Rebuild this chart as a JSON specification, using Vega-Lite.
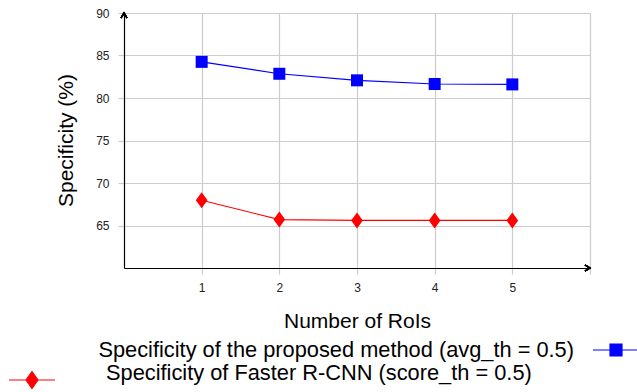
{
  "$schema": "https://vega.github.io/schema/vega-lite/v6.json",
  "width": 466,
  "height": 255,
  "autosize": {"type": "none"},
  "padding": {"left": 124, "top": 13, "right": 47, "bottom": 124},
  "background": "white",
  "config": {"font": "Liberation Sans", "view": {"stroke": null}},
  "data": {
    "values": [
      {"rois": 1, "specificity": 84.25, "method": "proposed", "series": "Specificity of the proposed method (avg_th = 0.5)"},
      {"rois": 2, "specificity": 82.85, "method": "proposed", "series": "Specificity of the proposed method (avg_th = 0.5)"},
      {"rois": 3, "specificity": 82.08, "method": "proposed", "series": "Specificity of the proposed method (avg_th = 0.5)"},
      {"rois": 4, "specificity": 81.65, "method": "proposed", "series": "Specificity of the proposed method (avg_th = 0.5)"},
      {"rois": 5, "specificity": 81.6, "method": "proposed", "series": "Specificity of the proposed method (avg_th = 0.5)"},
      {"rois": 1, "specificity": 67.97, "method": "faster", "series": "Specificity of Faster R-CNN (score_th = 0.5)"},
      {"rois": 2, "specificity": 65.7, "method": "faster", "series": "Specificity of Faster R-CNN (score_th = 0.5)"},
      {"rois": 3, "specificity": 65.6, "method": "faster", "series": "Specificity of Faster R-CNN (score_th = 0.5)"},
      {"rois": 4, "specificity": 65.6, "method": "faster", "series": "Specificity of Faster R-CNN (score_th = 0.5)"},
      {"rois": 5, "specificity": 65.6, "method": "faster", "series": "Specificity of Faster R-CNN (score_th = 0.5)"}
    ]
  },
  "layer": [
    {
      "transform": [{"filter": "datum.method == 'proposed'"}],
      "mark": {"type": "line", "strokeWidth": 1.2, "point": {"filled": true, "shape": "square", "size": 144, "opacity": 1}},
      "encoding": {
        "x": {
          "field": "rois", "type": "quantitative",
          "scale": {"domain": [0, 6], "nice": false, "zero": false},
          "axis": {
            "values": [1, 2, 3, 4, 5, 6],
            "format": "d",
            "labelExpr": "datum.value == 6 ? '' : datum.label",
            "grid": true, "gridColor": "#cccccc", "gridWidth": 1.2,
            "domainColor": "#000000", "domainWidth": 1.2,
            "tickColor": "#cccccc", "tickSize": 6, "tickWidth": 1.2,
            "labelFontSize": 12, "labelColor": "#222222", "labelPadding": 8,
            "title": "Number of RoIs", "titleFontSize": 21, "titleFontWeight": "normal",
            "titleColor": "#000000", "titleBaseline": "alphabetic", "titleY": 59
          }
        },
        "y": {
          "field": "specificity", "type": "quantitative",
          "scale": {"domain": [60, 90], "nice": false, "zero": false},
          "axis": {
            "values": [65, 70, 75, 80, 85, 90],
            "grid": true, "gridColor": "#cccccc", "gridWidth": 1.2,
            "domainColor": "#000000", "domainWidth": 1.2,
            "tickColor": "#cccccc", "tickSize": 6, "tickWidth": 1.2,
            "labelFontSize": 12, "labelColor": "#222222", "labelPadding": 9,
            "title": "Specificity (%)", "titleFontSize": 21, "titleFontWeight": "normal",
            "titleColor": "#000000", "titleBaseline": "alphabetic", "titleAlign": "center",
            "titleX": -52, "titleY": 127, "titleAngle": -90
          }
        },
        "color": {
          "field": "series", "type": "nominal",
          "scale": {"range": ["#0000ff"]},
          "legend": {
            "orient": "none", "legendX": 468, "legendY": 313, "title": null, "padding": 0,
            "symbolType": "M-1,0L1,0M-0.26,-0.26L0.26,-0.26L0.26,0.26L-0.26,0.26Z",
            "symbolSize": 2116, "symbolStrokeWidth": 1.2,
            "labelFontSize": 21.8, "labelColor": "#000000", "labelLimit": 1000,
            "labelAlign": "right", "labelOffset": -66,
            "encode": {"symbols": {"update": {"fill": {"value": "#0000ff"}, "stroke": {"value": "#0000ff"}, "opacity": {"value": 1}}}}
          }
        }
      }
    },
    {
      "transform": [{"filter": "datum.method == 'faster'"}],
      "mark": {"type": "line", "strokeWidth": 1.2, "point": {"filled": true, "shape": "M0,-1.3L0.95,0L0,1.3L-0.95,0Z", "size": 151, "opacity": 1}},
      "encoding": {
        "x": {"field": "rois", "type": "quantitative"},
        "y": {"field": "specificity", "type": "quantitative"},
        "color": {
          "field": "series", "type": "nominal",
          "scale": {"range": ["#ff0000"]},
          "legend": {
            "orient": "none", "legendX": -116, "legendY": 343, "title": null, "padding": 0,
            "symbolType": "M-1,0L1,0M0,-0.37L0.26,0L0,0.37L-0.26,0Z",
            "symbolSize": 2116, "symbolStrokeWidth": 1.2,
            "labelFontSize": 21.8, "labelColor": "#000000", "labelLimit": 1000,
            "labelAlign": "left", "labelOffset": 50,
            "encode": {
              "symbols": {"update": {"fill": {"value": "#ff0000"}, "stroke": {"value": "#ff0000"}, "opacity": {"value": 1}}},
              "labels": {"update": {"dy": {"value": -7}}}
            }
          }
        }
      }
    },
    {
      "mark": {"type": "point", "shape": "M-1,-0.6L0,0L-1,0.6", "size": 100, "filled": false, "stroke": "#000000", "strokeWidth": 1.2, "opacity": 1},
      "encoding": {"x": {"datum": 6, "type": "quantitative"}, "y": {"datum": 60, "type": "quantitative"}}
    },
    {
      "mark": {"type": "point", "shape": "M-0.6,1L0,0L0.6,1", "size": 100, "filled": false, "stroke": "#000000", "strokeWidth": 1.2, "opacity": 1},
      "encoding": {"x": {"datum": 0, "type": "quantitative"}, "y": {"datum": 90, "type": "quantitative"}}
    }
  ],
  "resolve": {"scale": {"color": "independent"}}
}
